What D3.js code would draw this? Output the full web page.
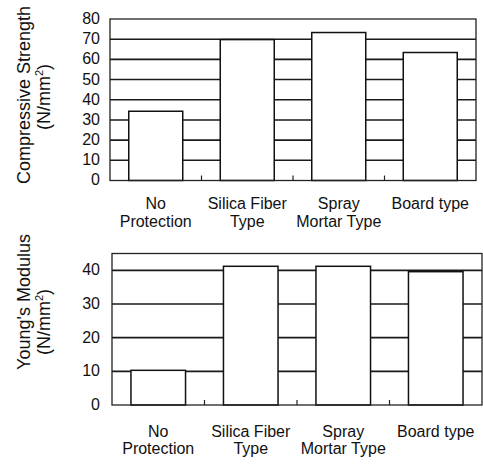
<!DOCTYPE html>
<html>
<head>
<meta charset="utf-8">
<script src="https://cdn.jsdelivr.net/npm/d3@7"></script>
<style>
  html, body { margin: 0; padding: 0; background: #fff; }
  svg { display: block; }
  text { font-family: "Liberation Sans", Arial, Helvetica, sans-serif; fill: #111; }
</style>
</head>
<body>
<svg id="chart" width="483" height="464"></svg>
<script>
// ---- Data ----
const categories = [["No", "Protection"], ["Silica Fiber", "Type"], ["Spray", "Mortar Type"], ["Board type"]];
const categoryKeys = ["No Protection", "Silica Fiber Type", "Spray Mortar Type", "Board type"];
const compressiveStrength = [34.3, 69.8, 73.3, 63.4];
const youngsModulus = [10.3, 41.2, 41.2, 39.6];
const compressiveTicks = [0, 10, 20, 30, 40, 50, 60, 70, 80];
const youngsTicks = [0, 10, 20, 30, 40];

const svg = d3.select("#chart");

function panel(opts) {
  const { left, right, top, bottom, yMax, values, ticks, tickPad, title, titleCenter1, titleCenter2, lab1, lab2 } = opts;
  const g = svg.append("g");
  const x = d3.scaleBand().domain(categoryKeys).range([left, right]).paddingInner(0.41).paddingOuter(0.205);
  const xb = d3.scaleBand().domain(categoryKeys).range([left, right]);
  const y = d3.scaleLinear().domain([0, yMax]).range([bottom, top]);

  // gridlines
  g.selectAll("line.grid").data(ticks.filter(t => t > 0 && t < yMax)).enter()
    .append("line").attr("class", "grid")
    .attr("x1", left).attr("x2", right)
    .attr("y1", d => y(d)).attr("y2", d => y(d))
    .attr("stroke", "#1a1a1a").attr("stroke-width", 1.6);

  // bars
  g.selectAll("rect.bar").data(values).enter()
    .append("rect").attr("class", "bar")
    .attr("x", (d, i) => x(categoryKeys[i]))
    .attr("width", x.bandwidth())
    .attr("y", d => y(d))
    .attr("height", d => bottom - y(d))
    .attr("fill", "#fff").attr("stroke", "#111").attr("stroke-width", 1.5);

  // frame
  g.append("rect").attr("x", left).attr("y", top)
    .attr("width", right - left).attr("height", bottom - top)
    .attr("fill", "none").attr("stroke", "#222").attr("stroke-width", 1.3);

  // small ticks at band boundaries
  g.selectAll("line.btick").data(categoryKeys.slice(1)).enter()
    .append("line").attr("class", "btick")
    .attr("x1", d => xb(d)).attr("x2", d => xb(d))
    .attr("y1", bottom).attr("y2", bottom - 5)
    .attr("stroke", "#222").attr("stroke-width", 1.2);

  // y axis labels
  const ax = g.append("g").attr("transform", `translate(${left},0)`)
    .call(d3.axisLeft(y).tickValues(ticks).tickSize(0).tickPadding(tickPad).tickFormat(d3.format("d")));
  ax.select(".domain").remove();
  ax.selectAll("text").style("font-size", "16px").attr("dy", "0.28em")
    .style("font-family", '"Liberation Sans", Arial, sans-serif').attr("fill", "#111");

  // x labels
  categories.forEach((lines, i) => {
    const cx = xb(categoryKeys[i]) + xb.bandwidth() / 2;
    lines.forEach((t, j) => {
      g.append("text").attr("x", cx).attr("y", j === 0 ? lab1 : lab2)
        .attr("text-anchor", "middle").style("font-size", "16px").text(t);
    });
  });

  // y title
  g.append("text").attr("transform", `translate(30,${titleCenter1}) rotate(-90)`)
    .attr("text-anchor", "middle").style("font-size", "18px").text(title);
  const t2 = g.append("text").attr("transform", `translate(50,${titleCenter2}) rotate(-90)`)
    .attr("text-anchor", "middle").style("font-size", "18px");
  t2.append("tspan").text("(N/mm");
  t2.append("tspan").attr("dy", -7).style("font-size", "11px").text("2");
  t2.append("tspan").attr("dy", 7).text(")");
}

panel({ left: 110, right: 476, top: 19, bottom: 180.5, yMax: 80, values: compressiveStrength,
  ticks: compressiveTicks, tickPad: 10, title: "Compressive Strength",
  titleCenter1: 95, titleCenter2: 97, lab1: 208.5, lab2: 226.5 });

panel({ left: 112, right: 482, top: 253.5, bottom: 405, yMax: 45, values: youngsModulus,
  ticks: youngsTicks, tickPad: 12, title: "Young's Modulus",
  titleCenter1: 302, titleCenter2: 322, lab1: 437, lab2: 454 });
</script>
</body>
</html>
